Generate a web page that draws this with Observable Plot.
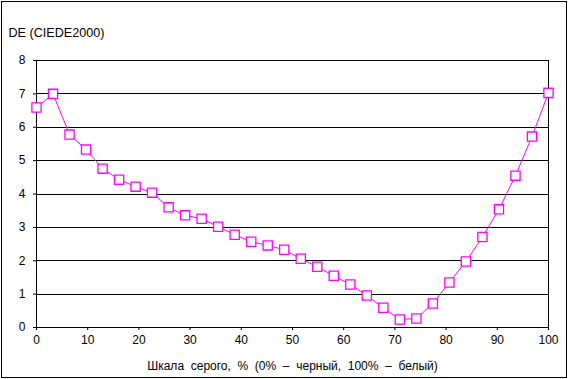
<!DOCTYPE html>
<html>
<head>
<meta charset="utf-8">
<script src="https://cdn.jsdelivr.net/npm/d3@7"></script>
<script src="https://cdn.jsdelivr.net/npm/@observablehq/plot@0.6"></script>
<style>
  html, body { margin: 0; padding: 0; background: #fff; }
  #wrap { position: relative; width: 568px; height: 379px; }
  #border { position: absolute; left: 1px; top: 1px; width: 564px; height: 375px; border: 1px solid #000; pointer-events: none; }
</style>
</head>
<body>
<div id="wrap"><div id="border"></div></div>
<script>
const grayPercent = d3.range(32).map(i => i * 100 / 31);
const deltaE = [6.59, 7.0, 5.78, 5.33, 4.76, 4.43, 4.22, 4.04, 3.6, 3.36, 3.26, 3.02, 2.78, 2.57, 2.46, 2.33,
  2.06, 1.82, 1.55, 1.29, 0.96, 0.59, 0.24, 0.27, 0.72, 1.35, 1.98, 2.71, 3.54, 4.55, 5.72, 7.03];
const yTicks = [0, 1, 2, 3, 4, 5, 6, 7, 8];
const xTicks = [0, 10, 20, 30, 40, 50, 60, 70, 80, 90, 100];
const yTitle = "DE (CIEDE2000)";
const xTitle = "Шкала  серого,  %  (0%  –  черный,  100%  –  белый)";

const data = grayPercent.map((x, i) => ({x, y: deltaE[i]}));

const chart = Plot.plot({
  width: 568,
  height: 379,
  marginLeft: 36,
  marginRight: 20,
  marginTop: 60,
  marginBottom: 52,
  style: {fontFamily: "Liberation Sans, Arial, sans-serif", fontSize: "12px", color: "#000", background: "transparent"},
  x: {domain: [0, 100], ticks: xTicks, label: null},
  y: {domain: [0, 8], ticks: yTicks, label: null},
  marks: [
    Plot.ruleY(yTicks, {stroke: "#000", strokeWidth: 1, shapeRendering: "crispEdges"}),
    Plot.ruleX([0, 100], {stroke: "#000", strokeWidth: 1, shapeRendering: "crispEdges"}),
    Plot.axisX({ticks: xTicks, tickSize: 3, tickPadding: 5, stroke: "#000", label: null, fontSize: 12}),
    Plot.axisY({ticks: yTicks, tickSize: 3, tickPadding: 8, stroke: "#000", label: null, fontSize: 12}),
    Plot.line(data, {x: "x", y: "y", stroke: "#ff00ff", strokeWidth: 1}),
    Plot.dot(data, {x: "x", y: "y", symbol: "square", r: 5.2, stroke: "#ff00ff", fill: "#fff", strokeWidth: 1.3}),
    Plot.text([yTitle], {frameAnchor: "top-left", dx: -28, dy: -32, text: d => d, textAnchor: "start", fontSize: 12.6}),
    Plot.text([xTitle], {frameAnchor: "bottom", dy: 42, text: d => d, fontSize: 12})
  ]
});
document.getElementById("wrap").prepend(chart);
</script>
</body>
</html>
